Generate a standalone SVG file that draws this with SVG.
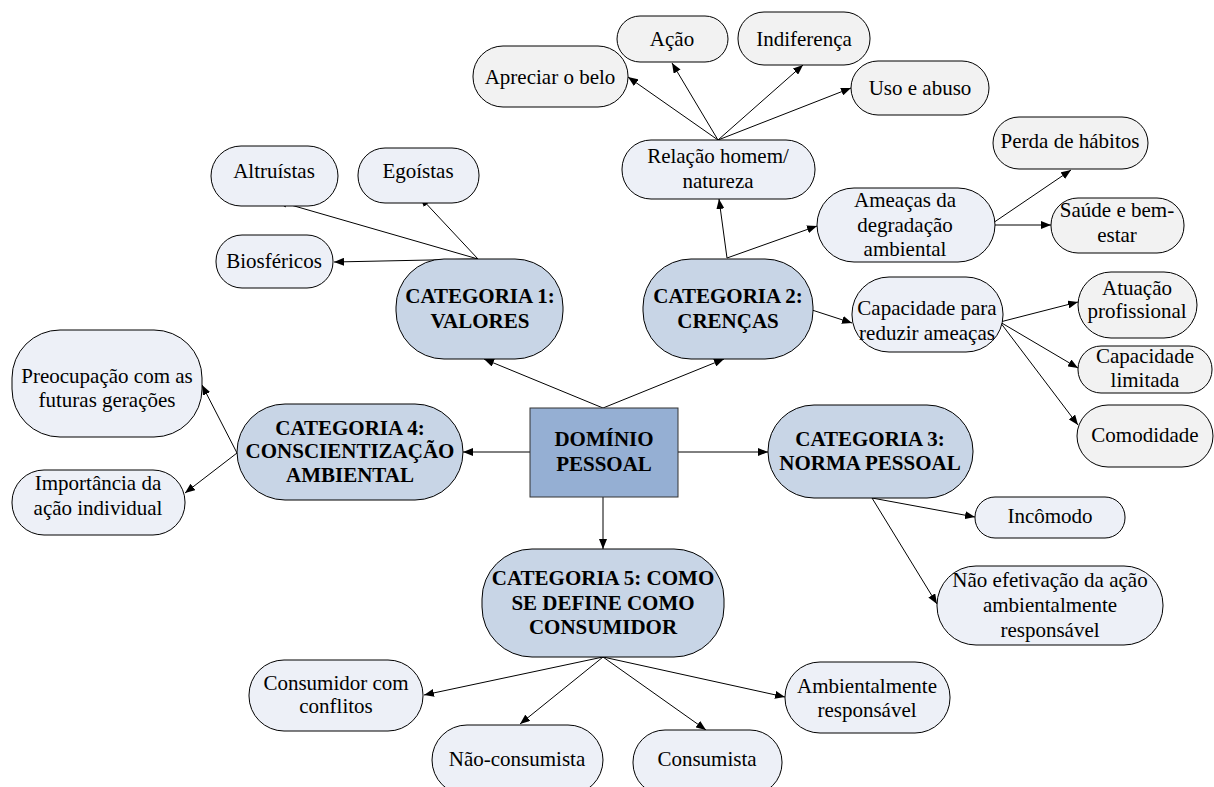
<svg xmlns="http://www.w3.org/2000/svg" width="1214" height="787" viewBox="0 0 1214 787" font-family="Liberation Serif, Times New Roman, serif" font-size="21">
<style>
.t{text-anchor:middle;fill:#000}
.b{font-weight:bold}
.g{fill:#F2F2F2;stroke:#000;stroke-width:1}
.l{fill:#EDF0F7;stroke:#000;stroke-width:1}
.c{fill:#C8D5E6;stroke:#000;stroke-width:1}
.d{fill:#95AFD3;stroke:#333;stroke-width:1}
.e{stroke:#000;stroke-width:1;fill:none;marker-end:url(#ah)}
</style>
<defs>
<marker id="ah" viewBox="0 0 10 8" refX="10" refY="4" markerWidth="10" markerHeight="8" markerUnits="userSpaceOnUse" orient="auto"><path d="M0,0 L10,4 L0,8 z" fill="#000"/></marker>
</defs>
<rect width="1214" height="787" fill="#fff"/>
<g id="connectors">
<line class="e" x1="603" y1="408" x2="484" y2="359"/>
<line class="e" x1="603" y1="408" x2="724" y2="359"/>
<line class="e" x1="530" y1="452" x2="463" y2="452"/>
<line class="e" x1="678" y1="452" x2="768" y2="452"/>
<line class="e" x1="603" y1="497" x2="603" y2="549"/>
<line class="e" x1="478" y1="259" x2="277" y2="201"/>
<line class="e" x1="478" y1="259" x2="420" y2="197"/>
<line class="e" x1="478" y1="259" x2="334" y2="262"/>
<line class="e" x1="727" y1="258" x2="719" y2="199"/>
<line class="e" x1="727" y1="258" x2="817" y2="226"/>
<line class="e" x1="812" y1="310" x2="852" y2="323"/>
<line class="e" x1="718" y1="140" x2="628" y2="77"/>
<line class="e" x1="718" y1="140" x2="672" y2="63"/>
<line class="e" x1="718" y1="140" x2="803" y2="65"/>
<line class="e" x1="718" y1="140" x2="851" y2="88"/>
<line class="e" x1="990" y1="225" x2="1071" y2="170"/>
<line class="e" x1="990" y1="225" x2="1051" y2="225"/>
<line class="e" x1="1000" y1="322" x2="1078" y2="302"/>
<line class="e" x1="1000" y1="322" x2="1078" y2="368"/>
<line class="e" x1="1000" y1="322" x2="1078" y2="425"/>
<line class="e" x1="237" y1="453" x2="202" y2="385"/>
<line class="e" x1="237" y1="453" x2="185" y2="493"/>
<line class="e" x1="872" y1="498" x2="975" y2="517"/>
<line class="e" x1="872" y1="498" x2="937" y2="604"/>
<line class="e" x1="603" y1="657" x2="424" y2="695"/>
<line class="e" x1="603" y1="657" x2="520" y2="724"/>
<line class="e" x1="603" y1="657" x2="706" y2="730"/>
<line class="e" x1="603" y1="657" x2="785" y2="697"/>
</g>
<g id="dominio"><rect class="d" x="530" y="408" width="148" height="89"/><text class="t b" x="604" y="446">DOMÍNIO</text><text class="t b" x="604" y="471">PESSOAL</text></g>
<g id="cat1"><rect class="c" x="396" y="259" width="167" height="100" rx="48"/><text class="t b" x="480" y="303">CATEGORIA 1:</text><text class="t b" x="480" y="328">VALORES</text></g>
<g id="cat2"><rect class="c" x="643" y="259" width="170" height="100" rx="48"/><text class="t b" x="728" y="303">CATEGORIA 2:</text><text class="t b" x="728" y="328">CRENÇAS</text></g>
<g id="cat3"><rect class="c" x="768" y="405" width="205" height="93" rx="46"/><text class="t b" x="870" y="446">CATEGORIA 3:</text><text class="t b" x="870" y="470">NORMA PESSOAL</text></g>
<g id="cat4"><rect class="c" x="237" y="404" width="226" height="96" rx="48"/><text class="t b" x="350" y="435">CATEGORIA 4:</text><text class="t b" x="350" y="458">CONSCIENTIZAÇÃO</text><text class="t b" x="350" y="482">AMBIENTAL</text></g>
<g id="cat5"><rect class="c" x="482" y="549" width="242" height="108" rx="50"/><text class="t b" x="603" y="585">CATEGORIA 5: COMO</text><text class="t b" x="603" y="610">SE DEFINE COMO</text><text class="t b" x="603" y="634">CONSUMIDOR</text></g>
<g id="apreciar"><rect class="g" x="473" y="46" width="155" height="61" rx="30"/><text class="t" x="550" y="84">Apreciar o belo</text></g>
<g id="acao"><rect class="g" x="617" y="16" width="111" height="46" rx="23"/><text class="t" x="672" y="46">Ação</text></g>
<g id="indiferenca"><rect class="g" x="738" y="12" width="132" height="53" rx="26"/><text class="t" x="804" y="46">Indiferença</text></g>
<g id="uso"><rect class="g" x="851" y="61" width="138" height="54" rx="27"/><text class="t" x="920" y="95">Uso e abuso</text></g>
<g id="relacao"><rect class="l" x="622" y="140" width="193" height="59" rx="29"/><text class="t" x="718" y="163">Relação homem/</text><text class="t" x="718" y="188">natureza</text></g>
<g id="altruistas"><rect class="l" x="211" y="146" width="127" height="60" rx="30"/><text class="t" x="274" y="178">Altruístas</text></g>
<g id="egoistas"><rect class="l" x="358" y="148" width="121" height="55" rx="27"/><text class="t" x="418" y="178">Egoístas</text></g>
<g id="biosfericos"><rect class="l" x="216" y="235" width="117" height="53" rx="26"/><text class="t" x="274" y="268">Biosféricos</text></g>
<g id="ameacas"><rect class="l" x="817" y="188" width="178" height="74" rx="37"/><text class="t" x="905" y="207">Ameaças da</text><text class="t" x="905" y="232">degradação</text><text class="t" x="905" y="256">ambiental</text></g>
<g id="capacidade"><rect class="l" x="852" y="277" width="151" height="75" rx="37"/><text class="t" x="927" y="315">Capacidade para</text><text class="t" x="927" y="340">reduzir ameaças</text></g>
<g id="perda"><rect class="g" x="993" y="117" width="155" height="52" rx="26"/><text class="t" x="1070" y="148">Perda de hábitos</text></g>
<g id="saude"><rect class="g" x="1051" y="198" width="133" height="55" rx="27"/><text class="t" x="1117" y="217">Saúde e bem-</text><text class="t" x="1117" y="242">estar</text></g>
<g id="atuacao"><rect class="g" x="1078" y="272" width="119" height="66" rx="33"/><text class="t" x="1137" y="295">Atuação</text><text class="t" x="1137" y="318">profissional</text></g>
<g id="limitada"><rect class="g" x="1078" y="346" width="134" height="47" rx="23"/><text class="t" x="1145" y="363">Capacidade</text><text class="t" x="1145" y="387">limitada</text></g>
<g id="comodidade"><rect class="g" x="1077" y="405" width="136" height="62" rx="31"/><text class="t" x="1145" y="442">Comodidade</text></g>
<g id="preocupacao"><rect class="l" x="12" y="330" width="190" height="107" rx="48"/><text class="t" x="107" y="383">Preocupação com as</text><text class="t" x="107" y="407">futuras gerações</text></g>
<g id="importancia"><rect class="l" x="12" y="470" width="173" height="65" rx="32"/><text class="t" x="98" y="490">Importância da</text><text class="t" x="98" y="515">ação individual</text></g>
<g id="incomodo"><rect class="l" x="975" y="497" width="150" height="41" rx="20"/><text class="t" x="1050" y="523">Incômodo</text></g>
<g id="naoefetivacao"><rect class="l" x="937" y="566" width="226" height="79" rx="39"/><text class="t" x="1050" y="587">Não efetivação da ação</text><text class="t" x="1050" y="612">ambientalmente</text><text class="t" x="1050" y="637">responsável</text></g>
<g id="conflitos"><rect class="l" x="249" y="660" width="174" height="71" rx="35"/><text class="t" x="336" y="690">Consumidor com</text><text class="t" x="336" y="713">conflitos</text></g>
<g id="naoconsumista"><rect class="l" x="432" y="725" width="171" height="70" rx="35"/><text class="t" x="517" y="766">Não-consumista</text></g>
<g id="consumista"><rect class="l" x="633" y="730" width="149" height="65" rx="32"/><text class="t" x="707" y="766">Consumista</text></g>
<g id="ambientalmente"><rect class="l" x="785" y="662" width="165" height="71" rx="35"/><text class="t" x="867" y="693">Ambientalmente</text><text class="t" x="867" y="717">responsável</text></g>
</svg>
